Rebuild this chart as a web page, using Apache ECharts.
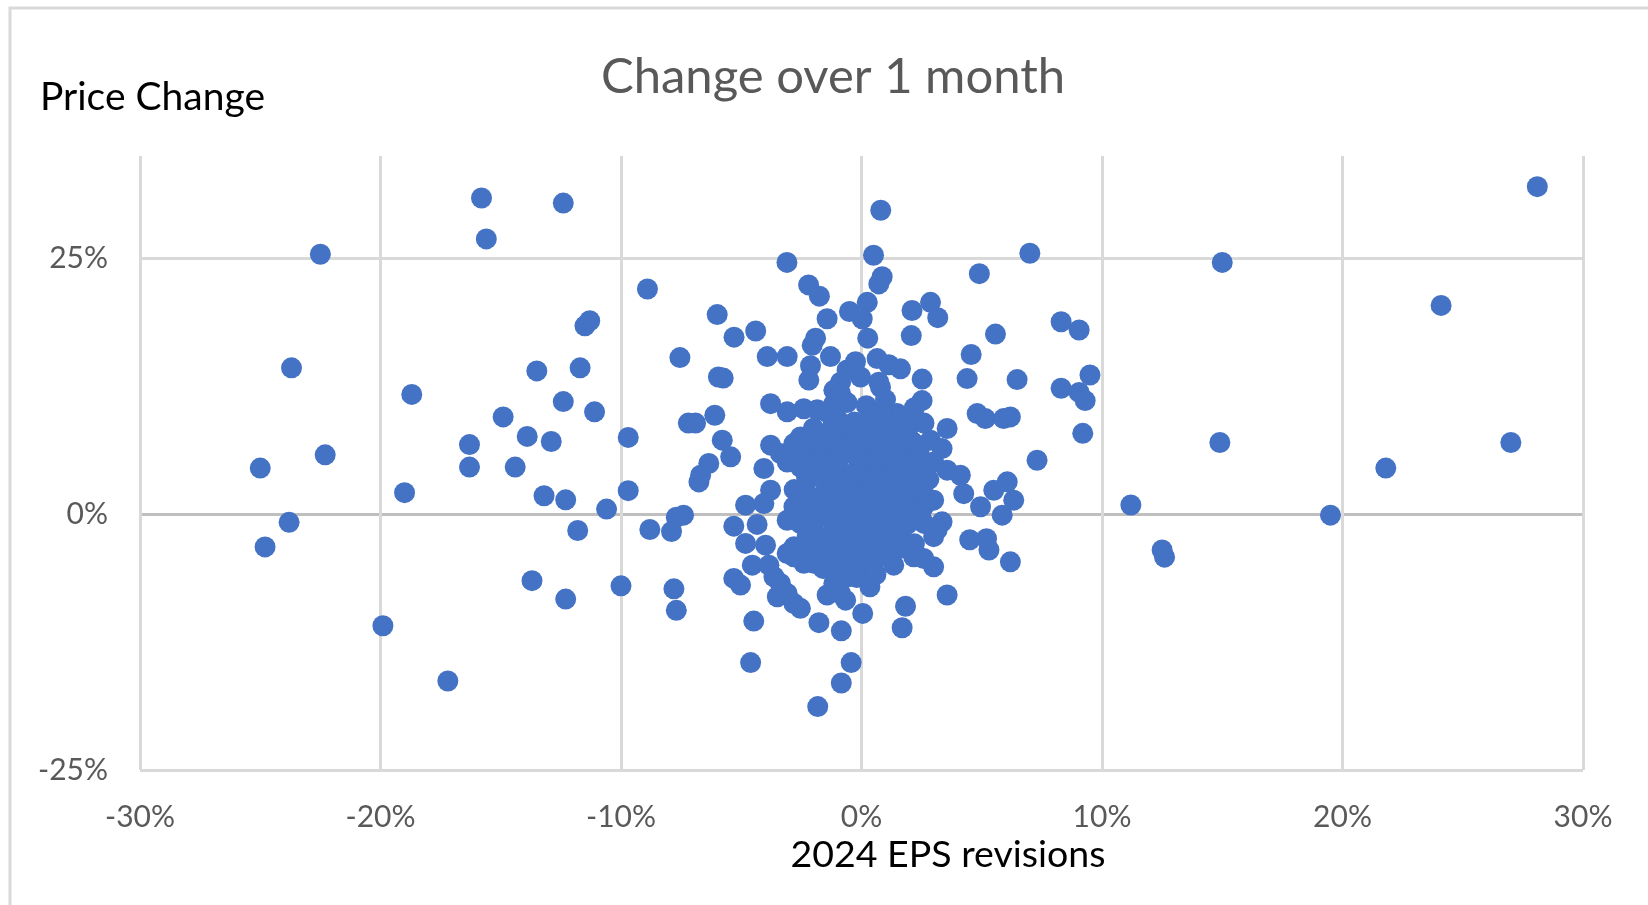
<!DOCTYPE html>
<html><head><meta charset="utf-8">
<script src="https://cdn.jsdelivr.net/npm/echarts@6/dist/echarts.min.js"></script>
<style>html,body{margin:0;padding:0;background:#fff}#c{width:1648px;height:905px}</style>
</head><body><div id="c"></div>
<script>
// [2024 EPS revision %, 1-month price change %]
const leftPoints = [
[-15.8,30.9],[-12.4,30.4],[-15.6,26.9],[-22.5,25.4],[-8.9,22.0],[-11.5,18.4],[-11.3,18.9],[-23.7,14.3],
[-7.55,15.3],[-13.5,14.0],[-11.7,14.3],[-18.7,11.7],[-12.4,11.0],[-11.1,10.0],[-14.9,9.5],[-7.2,8.9],
[-6.9,8.9],[-13.9,7.6],[-12.9,7.1],[-9.7,7.5],[-16.3,6.8],[-22.3,5.8],[-25.0,4.5],[-16.3,4.6],[-14.4,4.6],
[-19.0,2.1],[-13.2,1.8],[-12.3,1.4],[-9.7,2.3],[-10.6,0.5],[-23.8,-0.8],[-24.8,-3.2],[-11.8,-1.6],
[-8.8,-1.5],[-7.9,-1.7],[-7.7,-0.3],[-7.4,-0.1],[-13.7,-6.5],[-12.3,-8.3],[-10.0,-7.0],[-7.8,-7.3],
[-7.7,-9.4],[-19.9,-10.9],[-17.2,-16.3]
];
const rightPoints = [
[28.1,32.0],[15.0,24.6],[24.1,20.4],[8.3,18.8],[9.05,18.0],[9.5,13.6],[8.3,12.3],[9.05,11.9],[9.3,11.1],
[9.2,7.9],[14.9,7.0],[27.0,7.0],[21.8,4.5],[11.2,0.9],[19.5,-0.1],[12.5,-3.5],[12.6,-4.2]
];
const upperPoints = [
[0.8,29.7],[-3.1,24.6],[0.5,25.3],[7.0,25.5],[4.9,23.5],[0.86,23.2],[0.72,22.5],[-2.2,22.4],[-1.75,21.3],
[-1.43,19.1],[-0.5,19.8],[0.24,20.7],[0.03,19.1],[-6.0,19.5],[-5.3,17.3],[-4.4,17.9],[2.1,19.9],[2.87,20.7],
[3.17,19.2],[0.26,17.2],[2.07,17.45],[5.57,17.6],[-1.91,17.2],[-2.05,16.5],[-3.92,15.4],[-3.09,15.4],
[-1.29,15.4],[4.56,15.6],[-0.25,14.9],[0.65,15.2],[1.14,14.6],[1.62,14.2],[-2.12,14.5],[-2.19,13.1],
[-5.95,13.4],[-5.75,13.3],[-0.87,12.9],[-0.04,13.4],[0.72,12.9],[2.52,13.2],[4.39,13.25],[6.47,13.15],
[-1.15,12.1],[0.79,12.4],[-0.6,14.1]
];
const ringPoints = [
[-3.78,10.8],[-3.09,10.0],[-2.4,10.3],[-1.84,10.2],[-1.15,10.8],[-0.87,11.8],[2.52,11.1],[1.48,9.83],
[1.9,8.86],[3.56,8.37],[4.81,9.83],[5.15,9.34],[5.91,9.34],[6.19,9.5],[7.3,5.27],[2.87,7.23],[3.35,6.41],
[1.9,6.09],[3.56,4.3],[4.11,3.8],[4.25,2.0],[2.59,4.3],[2.52,2.67],[3.0,1.37],[4.95,0.72],[5.5,2.34],
[6.06,3.16],[6.33,1.37],[5.85,-0.1],[2.45,-0.1],[3.35,-0.75],[3.0,-2.2],[1.07,-2.2],[1.62,-2.4],[4.5,-2.5],
[5.2,-2.4],[5.3,-3.5],[3.15,-1.5],
[-6.1,9.67],[-5.79,7.23],[-5.44,5.6],[-6.35,4.95],[-6.76,3.15],[-6.69,3.8],[-3.78,6.74],[-3.37,5.93],
[-4.06,4.46],[-3.78,2.34],[-4.06,1.04],[-4.82,0.88],[-3.09,-0.59],[-2.81,0.72],[-5.31,-1.17],[-4.34,-1.0],
[-4.82,-2.86],[-3.99,-3.03],[-2.81,6.9],[-2.54,7.55],[-1.98,7.9],[-1.29,7.9],[-3.09,5.1],[-2.54,4.6],
[-2.26,3.3],[-2.4,2.0],[-1.98,1.04],[-2.54,-0.91],[-2.26,-2.2],[-2.81,-3.19],[-3.09,-3.84],[-2.54,-4.17],
[-1.98,-4.8]
];
const lowerPoints = [
[-5.31,-6.28],[-5.03,-6.93],[-4.54,-4.98],[-4.48,-10.45],[-4.61,-14.5],[-3.5,-8.07],[-3.09,-7.75],
[-2.81,-8.73],[-2.54,-9.2],[-3.37,-6.77],[-3.64,-6.12],[-3.85,-4.98],[-1.77,-10.6],[-0.84,-11.4],
[-0.43,-14.5],[-0.84,-16.5],[-1.82,-18.8],[0.05,-9.7],[1.83,-9.0],[1.69,-11.1],[3.56,-7.9],[6.19,-4.66],
[-1.43,-7.9],[-0.87,-7.75],[-0.66,-8.4],[-1.15,-6.77],[-0.59,-6.12],[0.35,-7.1],[1.34,-4.98],[3.0,-5.15],
[2.17,-4.17],[2.59,-4.33],[-2.4,-4.8],[-2.81,-4.17],[-2.12,-3.84],[-0.32,-4.5],[0.1,-5.47],[0.51,-4.8]
];
const corePoints = [
[-0.6,10.9],[0.2,10.6],[1.0,11.2],
[-1.0,9.3],[-0.3,9.0],[0.4,9.6],[1.1,8.9],
[-1.6,7.6],[-0.8,7.2],[0.0,7.8],[0.7,7.4],[1.4,7.7],[2.1,7.1],
[-2.2,6.1],[-1.4,5.8],[-0.6,6.3],[0.3,5.9],[1.0,6.2],[1.8,5.6],[2.4,6.3],
[-1.8,4.4],[-1.0,4.8],[-0.2,4.3],[0.6,4.7],[1.3,4.2],[2.0,4.9],
[-1.5,3.1],[-0.7,2.8],[0.1,3.3],[0.9,2.9],[1.6,3.2],[2.2,2.6],
[-1.9,1.6],[-1.1,1.3],[-0.3,1.8],[0.5,1.2],[1.2,1.7],[1.9,1.1],
[-1.6,0.2],[-0.8,-0.3],[0.0,0.4],[0.8,-0.1],[1.5,0.3],[2.2,-0.2],
[-2.0,-1.4],[-1.2,-1.8],[-0.4,-1.2],[0.4,-1.6],[1.1,-1.3],
[-1.6,-3.1],[-0.8,-2.8],[0.0,-3.3],[0.7,-2.9],
[-1.3,-4.4],[-0.5,-4.7],[0.3,-4.2],
[-1.0,-5.8],[-0.2,-6.2]
];
const coreFillPoints = [
[-1.4,9.9],[0.8,10.1],[1.7,9.6],[2.2,10.4],
[-2.0,8.4],[-1.2,8.6],[-0.4,8.2],[0.4,8.5],[1.2,8.1],[2.0,8.6],[2.6,8.9],
[-2.6,6.7],[-1.8,6.9],[-1.0,6.6],[-0.2,7.0],[0.6,6.8],[1.4,6.5],[2.2,6.9],
[-2.5,5.4],[-1.7,5.2],[-0.9,5.5],[-0.1,5.1],[0.7,5.4],[1.5,5.0],[2.3,5.3],[3.0,5.1],
[-2.3,3.8],[-1.1,3.6],[-0.3,3.9],[0.5,3.5],[1.3,3.8],[2.0,3.6],[2.8,3.4],
[-2.8,2.4],[-1.3,2.2],[-0.5,2.5],[0.3,2.1],[1.1,2.4],[1.9,2.0],[2.6,1.9],
[-2.2,0.8],[-1.4,0.7],[-0.6,1.0],[0.2,0.6],[1.0,0.9],[1.8,0.5],[2.6,0.8],
[-2.0,-0.6],[-1.2,-0.8],[-0.4,-0.5],[0.4,-0.9],[1.2,-0.6],[1.9,-1.0],[2.6,-0.9],
[-1.6,-2.3],[-0.8,-2.0],[0.0,-2.4],[0.8,-2.1],[1.5,-2.5],[2.2,-2.9],
[-2.0,-3.9],[-1.2,-3.6],[-0.4,-3.9],[0.4,-3.5],[1.1,-3.8],[1.7,-3.3],
[-1.6,-5.3],[-0.8,-5.1],[0.6,-5.9]
];
const xTickValues = [-30,-20,-10,0,10,20,30];
const yTickValues = [-25,0,25];
const chartTitle = 'Change over 1 month';
const xTitle = '2024 EPS revisions';
const yTitle = 'Price Change';

const points = [].concat(leftPoints, rightPoints, upperPoints, ringPoints, lowerPoints, corePoints, coreFillPoints);
const FONT = 'Lato, "Noto Sans", sans-serif';
const chart = echarts.init(document.getElementById('c'));
chart.setOption({
  animation: false,
  backgroundColor: '#ffffff',
  grid: {left: 140, right: 65, top: 156, bottom: 135, containLabel: false},
  xAxis: {
    type: 'value', min: -30, max: 30, interval: 10,
    axisLine: {show: false, onZero: false}, axisTick: {show: false},
    axisLabel: {color: '#595959', fontSize: 30, fontFamily: FONT, margin: 32,
      formatter: v => xTickValues.includes(v) ? v + '%' : ''},
    splitLine: {show: true, lineStyle: {color: '#d9d9d9', width: 3}}
  },
  yAxis: {
    type: 'value', min: -25, max: 35, interval: 25,
    axisLine: {show: false}, axisTick: {show: false},
    axisLabel: {color: '#595959', fontSize: 30, fontFamily: FONT, margin: 32, showMaxLabel: false,
      formatter: v => yTickValues.includes(v) ? v + '%' : ''},
    splitLine: {show: true, showMaxLine: false, lineStyle: {color: ['#d9d9d9', '#bfbfbf', '#d9d9d9', '#d9d9d9'], width: 3}}
  },
  series: [{
    type: 'scatter', data: points, symbol: 'circle', symbolSize: 21,
    itemStyle: {color: '#4472C4', opacity: 1}
  }],
  graphic: [
    {type: 'rect', silent: true, z: -10, shape: {x: 10, y: 8, width: 1700, height: 1000},
      style: {fill: 'none', stroke: '#d9d9d9', lineWidth: 3}},
    {type: 'text', x: 833, y: 77, style: {text: chartTitle, fill: '#595959', fontSize: 49, fontFamily: FONT, textAlign: 'center', textVerticalAlign: 'middle'}},
    {type: 'text', x: 40, y: 97, style: {text: yTitle, fill: '#000000', fontSize: 39, fontFamily: FONT, textAlign: 'left', textVerticalAlign: 'middle'}},
    {type: 'text', x: 948, y: 855, style: {text: xTitle, fill: '#000000', fontSize: 37.5, fontFamily: FONT, textAlign: 'center', textVerticalAlign: 'middle'}}
  ]
});
</script></body></html>
